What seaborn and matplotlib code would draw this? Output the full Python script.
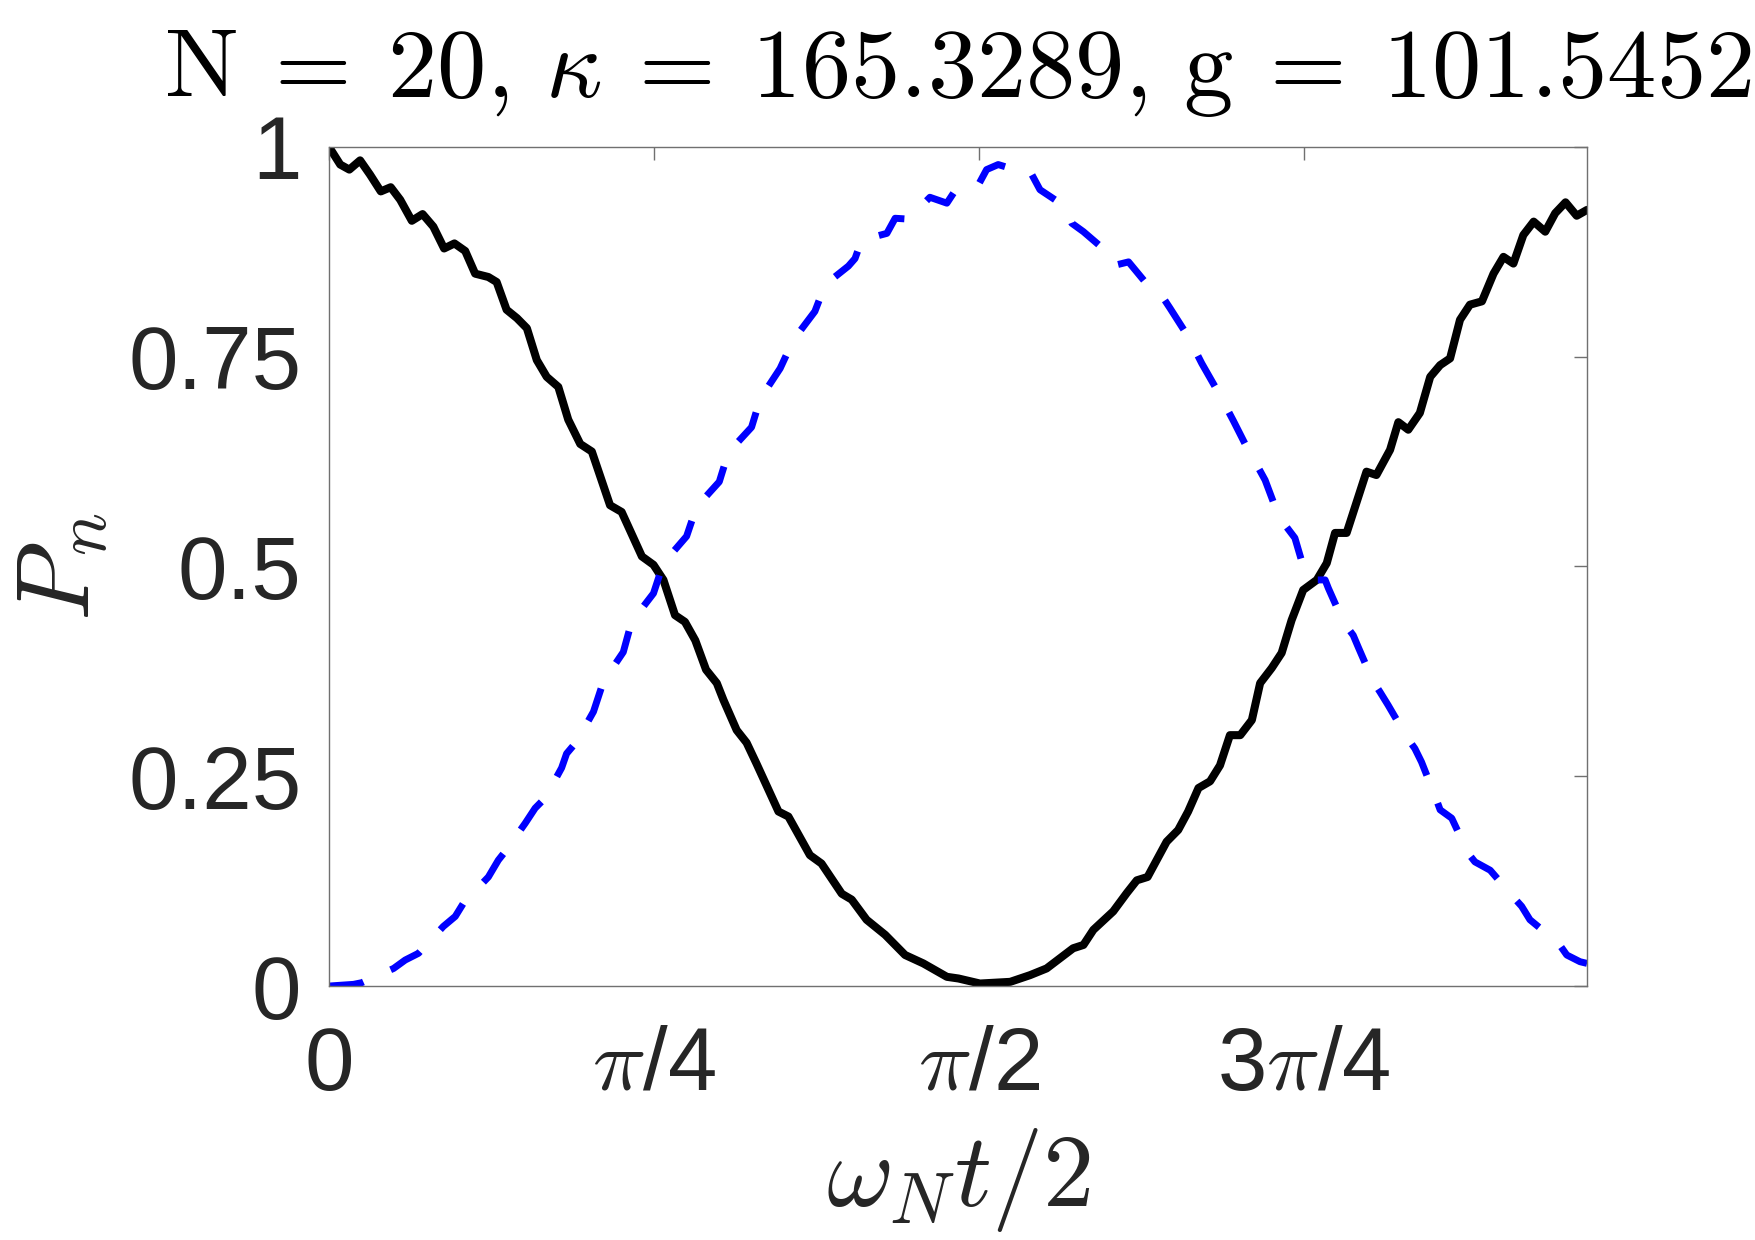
import numpy as np
import matplotlib
matplotlib.use("Agg")
import matplotlib.pyplot as plt
import seaborn as sns

# values (x in units of omega_N t / 2)
black_x = [0.000, 0.027, 0.049, 0.075, 0.099, 0.125, 0.149, 0.172, 0.200, 0.226,
           0.252, 0.278, 0.303, 0.329, 0.353, 0.385, 0.405, 0.429, 0.454, 0.478,
           0.502, 0.526, 0.554, 0.578, 0.607, 0.635, 0.679, 0.707, 0.756, 0.784,
           0.808, 0.836, 0.860, 0.885, 0.911, 0.937, 0.953, 0.985, 1.009, 1.033,
           1.086, 1.110, 1.162, 1.190, 1.239, 1.263, 1.299, 1.344, 1.392, 1.436,
           1.493, 1.521, 1.573, 1.646, 1.694, 1.734, 1.798, 1.823, 1.847, 1.895,
           1.928, 1.952, 1.978, 2.024, 2.052, 2.076, 2.101, 2.129, 2.153, 2.177,
           2.202, 2.230, 2.250, 2.278, 2.302, 2.326, 2.354, 2.387, 2.411, 2.431,
           2.459, 2.507, 2.531, 2.564, 2.584, 2.608, 2.636, 2.661, 2.685, 2.709,
           2.733, 2.757, 2.786, 2.814, 2.838, 2.862, 2.886, 2.911, 2.939, 2.963,
           2.988, 3.015, 3.040]
black_y = [1.000, 0.979, 0.973, 0.984, 0.967, 0.947, 0.952, 0.937, 0.912, 0.920,
           0.905, 0.879, 0.885, 0.876, 0.849, 0.845, 0.839, 0.806, 0.796, 0.784,
           0.746, 0.726, 0.714, 0.675, 0.646, 0.637, 0.573, 0.565, 0.512, 0.502,
           0.484, 0.442, 0.434, 0.412, 0.377, 0.361, 0.341, 0.305, 0.290, 0.265,
           0.208, 0.202, 0.156, 0.146, 0.110, 0.103, 0.079, 0.061, 0.037, 0.027,
           0.011, 0.009, 0.003, 0.005, 0.013, 0.021, 0.045, 0.049, 0.067, 0.089,
           0.111, 0.126, 0.130, 0.172, 0.186, 0.208, 0.236, 0.244, 0.263, 0.299,
           0.299, 0.317, 0.361, 0.379, 0.397, 0.436, 0.472, 0.484, 0.504, 0.540,
           0.540, 0.613, 0.609, 0.639, 0.672, 0.663, 0.683, 0.726, 0.740, 0.748,
           0.794, 0.812, 0.816, 0.849, 0.869, 0.861, 0.895, 0.911, 0.899, 0.921,
           0.934, 0.918, 0.925]

blue_x = [0.000, 0.059, 0.079, 0.156, 0.184, 0.216, 0.276, 0.305, 0.325, 0.385,
          0.409, 0.425, 0.474, 0.498, 0.522, 0.562, 0.574, 0.598, 0.639, 0.663,
          0.711, 0.731, 0.784, 0.808, 0.864, 0.888, 0.943, 0.965, 1.021, 1.042,
          1.090, 1.122, 1.174, 1.199, 1.255, 1.271, 1.287, 1.348, 1.368, 1.400,
          1.452, 1.493, 1.509, 1.565, 1.589, 1.617, 1.670, 1.694, 1.718, 1.779,
          1.795, 1.823, 1.875, 1.899, 1.932, 1.984, 2.008, 2.032, 2.076, 2.109,
          2.153, 2.186, 2.225, 2.242, 2.262, 2.294, 2.314, 2.334, 2.359, 2.383,
          2.407, 2.415, 2.451, 2.475, 2.487, 2.523, 2.539, 2.559, 2.604, 2.624,
          2.640, 2.673, 2.685, 2.713, 2.753, 2.769, 2.806, 2.862, 2.882, 2.902,
          2.971, 2.991, 3.023, 3.040]
blue_y = [0.000, 0.002, 0.004, 0.021, 0.031, 0.039, 0.071, 0.083, 0.099, 0.130,
          0.150, 0.160, 0.194, 0.212, 0.224, 0.260, 0.277, 0.291, 0.327, 0.363,
          0.398, 0.434, 0.468, 0.504, 0.536, 0.571, 0.601, 0.636, 0.666, 0.700,
          0.736, 0.770, 0.804, 0.836, 0.858, 0.867, 0.889, 0.897, 0.915, 0.914,
          0.940, 0.933, 0.945, 0.951, 0.973, 0.979, 0.971, 0.971, 0.949, 0.929,
          0.909, 0.899, 0.877, 0.859, 0.863, 0.832, 0.826, 0.808, 0.774, 0.742,
          0.704, 0.673, 0.635, 0.621, 0.603, 0.561, 0.547, 0.534, 0.492, 0.484,
          0.484, 0.474, 0.434, 0.418, 0.404, 0.363, 0.351, 0.335, 0.297, 0.283,
          0.267, 0.226, 0.210, 0.200, 0.158, 0.148, 0.138, 0.106, 0.095, 0.079,
          0.051, 0.037, 0.029, 0.027]

xtick_vals = [0, np.pi / 4, np.pi / 2, 3 * np.pi / 4]
xtick_labels = ['0', r'$\pi$/4', r'$\pi$/2', r'3$\pi$/4']
ytick_vals = [0, 0.25, 0.5, 0.75, 1]
ytick_labels = ['0', '0.25', '0.5', '0.75', '1']

sns.set_style("white")
plt.rcParams['font.family'] = ['Liberation Sans', 'DejaVu Sans']
plt.rcParams['mathtext.fontset'] = 'cm'

fig = plt.figure(figsize=(17.55, 12.40), dpi=100)
ax = fig.add_axes([0.1875, 0.2048, 0.9043 - 0.1875, 0.8815 - 0.2048])

sns.lineplot(x=black_x, y=black_y, ax=ax, color='black', lw=5.8,
             estimator=None, errorbar=None, solid_joinstyle='round')
sns.lineplot(x=blue_x, y=blue_y, ax=ax, color='#0000ff', lw=5.0,
             estimator=None, errorbar=None, linestyle=(0, (5.0, 4.3)))

ax.set_xlim(0, 3.04)
ax.set_ylim(0, 1)
ax.set_xticks(xtick_vals)
ax.set_xticklabels(xtick_labels)
ax.set_yticks(ytick_vals)
ax.set_yticklabels(ytick_labels)

ax.tick_params(direction='in', top=True, right=True, length=9.4, width=1,
               color='#707070', labelcolor='#262626', labelsize=64)
ax.tick_params(axis='y', pad=20)
ax.tick_params(axis='x', pad=28)
for s in ax.spines.values():
    s.set_color('#707070')
    s.set_linewidth(1)

ax.set_title(r'$\mathrm{N}\:=\:20,\,\kappa\:=\:165.3289,\,\mathrm{g}\:=\:101.5452$',
             fontsize=71, pad=36, color='black')
ax.set_xlabel(r'$\omega_N t/2$', fontsize=74, color='#262626', labelpad=12)
ax.set_ylabel(r'$P_n$', fontsize=74, color='#262626', labelpad=12)

fig.savefig('out.png', dpi=100)
